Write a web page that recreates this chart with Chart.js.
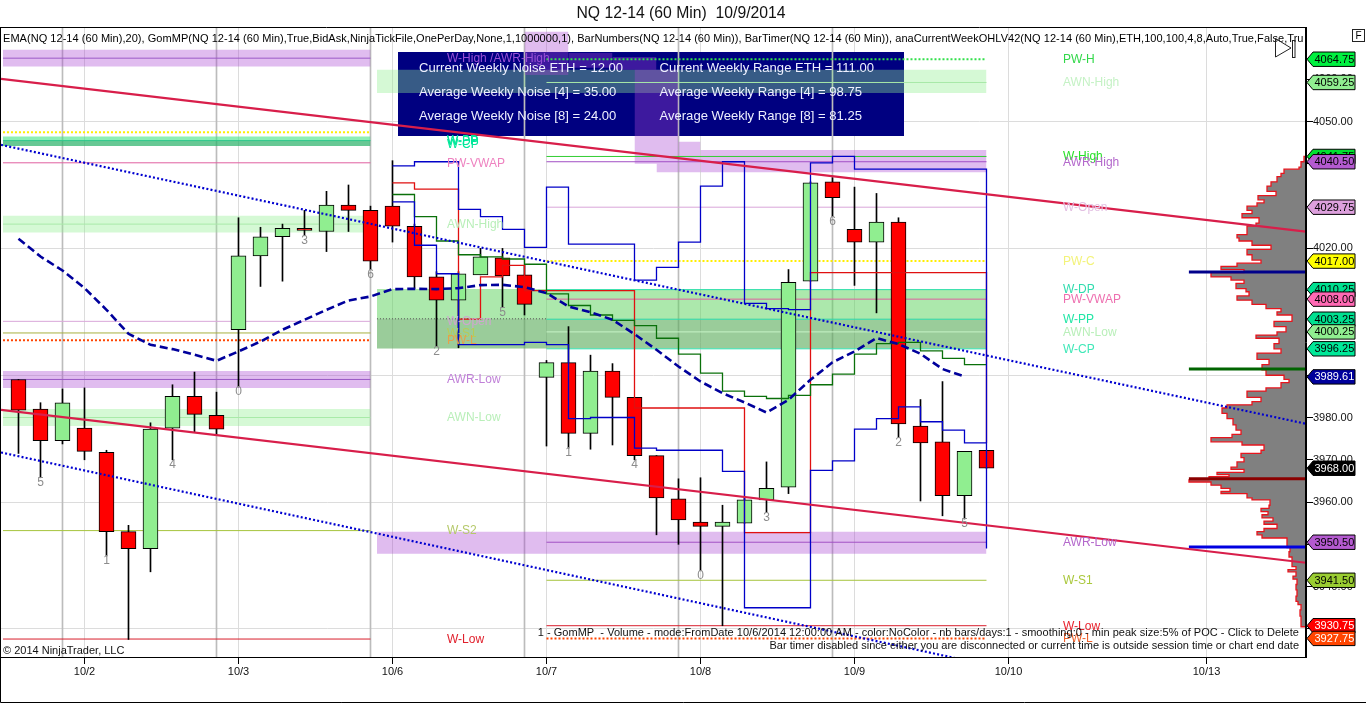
<!DOCTYPE html>
<html><head><meta charset="utf-8">
<style>html,body{margin:0;padding:0;background:#fff;overflow:hidden}canvas{display:block}</style>
<script src="https://cdn.jsdelivr.net/npm/chart.js@4"></script>
</head><body><canvas id="c" width="1366" height="703" style="width:1366px;height:703px"></canvas>
<script>
const chartTitle='NQ 12-14 (60 Min)  10/9/2014';
const xTicks=[3,10,17,24,31,38,45,54];
const xTickLabels=['10/2','10/3','10/6','10/7','10/8','10/9','10/10','10/13'];
const yTicks=[3930,3940,3950,3960,3970,3980,3990,4000,4010,4020,4030,4040,4050,4060];
const sessionBreaks=[2,9,16,23,30,37];
const opens=[3989,3982,3974.5,3977.5,3971.75,3953,3949,3977.5,3985,3980.5,4000.75,4018.25,4022.75,4024.75,4024,4030.25,4029,4030,4025.25,4013.25,4007.75,4013.75,4017.75,4013.75,3989.5,3993,3976.25,3991,3984.75,3971,3960.75,3955.25,3954.25,3955,3960.5,3963.5,4012.25,4035.75,4024.5,4021.5,4026.25,3978,3974.25,3961.5,3972.25];
const closes=[3981.75,3974.5,3983.5,3972,3953,3949,3977.25,3985,3980.75,3977.25,4018.25,4022.75,4024.75,4024.25,4030.25,4029,4017,4025.25,4013.25,4007.75,4014,4018,4013.5,4006.75,3993,3976.25,3991,3984.75,3971,3961,3955.75,3954.25,3955.25,3960.5,3963.25,4012,4035.5,4032,4021.5,4026.25,3978.5,3974,3961.5,3972,3968];
const highs=[3989,3983.5,3986.75,3987,3972.25,3954.5,3978.75,3987.75,3990.75,3986,4027.25,4025,4025.75,4029,4033.5,4035,4030,4040.75,4025.75,4014.5,4014.5,4020,4020,4016,3993.5,4001.5,3994.75,3992.75,3984.75,3971,3965.5,3965.75,3959.25,3961,3969.5,4015,4035.75,4036.75,4034.5,4033,4027.25,3984.25,3988.5,3972,3972.25];
const lows=[3971.5,3965.75,3973.75,3970,3947.25,3927.5,3943.5,3970,3976.5,3975.75,3987.25,4011,4012.25,4023,4019.25,4024,4015,4021.5,4010.5,3996.75,3996.5,4013.75,4006,4004.25,3973.25,3972.75,3972.5,3973.5,3970,3952.25,3950,3943.75,3930.75,3955,3957.5,3962,4012.25,4027.5,4011.25,4004.75,3975.25,3960.25,3956.75,3956,3968];
const barNumberIndex=[1,4,7,10,13,16,19,22,25,28,31,34,37,40,43];
const barNumbers=['5','1','4','0','3','6','2','5','1','4','0','3','6','2','5'];
const ema20=[4022.27,4018.08,4014.77,4010.61,4005.48,3999.8,3997.2,3996.18,3994.84,3993.42,3995.62,3997.98,4000.75,4003.11,4005.48,4007.68,4008.62,4010.37,4010.44,4010.37,4010.61,4011.32,4011.39,4010.84,4009.43,4006.26,4004.93,4003.11,3999.73,3996.02,3992.07,3988.52,3985.78,3983.56,3981.19,3984.2,3988.93,3993.06,3995.62,3998.79,3997.37,3995.07,3991.46,3989.71];
const gomStartIndex=17;
const gomHigh=[4039.5,4040.5,4040.5,4029.25,4027.5,4024.5,4020.25,4034.5,4021,4021,4021,4012.5,4015.5,4021.5,4034.75,4040.5,4007,4005.75,4005.5,4040.25,4041.75,4038.75,4038.75,4038.75,4038.75,4038.75,4038.75,3949];
const gomLow=[4031,4020.75,4014,3997.25,3997.25,3997.25,3997.75,3997.25,3979.75,3980,3980,3972.75,3972.25,3972.25,3972.25,3967.25,3935,3935,3935,3967.5,3969.75,3977.25,3979.75,3982.5,3979,3977,3974,3974];
const gomPoc=[4035.5,4034,4034,4003.25,4013.25,4016,4010,4010,4010,4010,4010,3982.25,3982.25,3982.25,3982.25,3982.25,3952.75,3952.75,3952.75,4014.25,4014.25,4014.25,4014.25,4014.25,4014.25,4014.25,4014.25,3974];
const gomVwap=[4032.75,4027.5,4021.75,4018.5,4018,4017.5,4016.25,4009.25,4006.5,4004.25,4003,4001.75,3998.75,3995,3990.5,3986.25,3985,3984.5,3985.25,3987.75,3990.25,3995,3997.5,3997.75,3995.75,3994,3992.5,3992.5];
const trendX=[-0.795,58.52];
const trendRedUpper=[4060.1,4023.99];
const trendRedLower=[3981.83,3945.65];
const trendBlueUpper=[4044.49,3978.52];
const trendBlueLower=[3971.73,3905.22];
const profilePrices=[3930.5,3931.5,3933,3934.5,3935.75,3936.5,3937.75,3939.25,3940.5,3941.75,3942.5,3943.5,3944,3944.75,3945.75,3947,3948.25,3949.25,3950.75,3951.5,3952.25,3953,3953.75,3954.75,3955.5,3956.25,3957,3957.75,3958.5,3959.25,3960.5,3961,3962,3962.5,3963.25,3964,3964.75,3965.25,3966,3966.5,3967,3967.75,3968.25,3969.5,3970.5,3971.5,3972.25,3973.5,3974.25,3975.25,3976,3977,3978.25,3979.75,3981,3982.25,3983,3983.75,3984.75,3986.25,3987,3988.25,3989,3990,3991.25,3992.5,3993.75,3995.25,3996.25,3997.5,3998.75,3999.5,4000.25,4001.5,4002.75,4004.25,4005,4005.75,4006.75,4007.75,4008.75,4009.75,4010.5,4011.75,4012.5,4013.25,4014.25,4015,4015.75,4016.5,4017.25,4018.5,4019.75,4020.75,4021.75,4022.5,4023.25,4024.25,4025.25,4026,4027.25,4028.25,4029,4030,4030.75,4031.5,4032.5,4033.5,4034.75,4035.75,4037,4037.75,4038.75,4039.25,4040.5,4041.75,4042.5];
const profileVolume=[0,5,5,6,5,8,10,9,10,9,13,10,18,10,14,14,17,16,19,19,44,49,42,29,42,33,44,38,45,37,36,54,59,85,76,85,95,117,97,77,89,62,75,69,62,65,45,42,64,95,74,65,70,73,79,84,79,54,45,59,40,25,17,22,40,44,37,49,25,32,27,50,29,20,32,14,29,25,40,54,69,57,60,70,62,75,95,62,85,69,45,54,59,35,54,67,69,59,59,50,47,64,54,59,49,42,48,30,39,35,29,25,22,7,5,2,0];
const pocPrices=[4014.4,3991.46,3965.5,3949.37];
const pocStart=53.2;
const zonesPurple=[[-0.705,16,4067,4063],[-0.705,16,3991,3987],[16.295,44,3953,3947.75],[23,25,4071.25,4061],[25,27,4066.25,4062.75],[27,29,4065.25,4062.25],[28,30,4062.25,4040],[29,30,4040,4038],[30,31,4045.25,4038],[31,44,4043.25,4038]];
const zonesPaleGreen=[[-0.705,16,4027.75,4023.75],[-0.705,16,3982,3978],[16.295,44,4062.25,4056.75]];
const zonesPivotGreen=[[-0.705,16,4046.5,4044.25]];
const zonesPivotDark=[[-0.705,16,4045.5,4044.25]];
const zonesNoiseGreen=[[16.295,44,4010.37,3996.33]];
const zonesNoiseDark=[[16.295,44,4003.35,3996.33]];
const prevStart=-0.705, prevEnd=16, curStart=24, curEnd=44;
const prevAwr=[4065,3989], prevAwn=[4025.75,3980], prevPwc=4047.5, prevPivot=4045.5, prevVwap=4040.25, prevOpen=4002.75, prevS=[4000,3953.25], prevPwl=3998.25, prevLow=3927.6;
const curAwr=[4040.5,3950.5], curAwn=[4059.25,4000.25], curPwh=4064.75, curHigh=4041.75, curOpen=4029.75, curPwc=4017, curPivots=[4010.25,4003.25,3996.25], curVwap=4008, curS1=3941.5, curLow=3930.75, curPwl=3927.75, curDotted=4003.35;
const leftLabels=['W-High /AWR-High','W-PP','W-DP','W-CP','PW-VWAP','AWN-High','W-Open','W-S1','PW-L','AWR-Low','AWN-Low','W-S2','W-Low'];
const leftLabelPrices=[4065,4045.5,4045.25,4044.75,4040.25,4025.75,4002.75,4000,3998.25,3989,3980,3953.25,3927.6];
const rightLabels=['PW-H','AWN-High','W-High','AWR-High','W-Open','PW-C','W-DP','PW-VWAP','W-PP','AWN-Low','W-CP','AWR-Low','W-S1','W-Low','PW-L'];
const rightLabelPrices=[4064.75,4059.25,4041.75,4040.5,4029.75,4017,4010.25,4008,4003.25,4000.25,3996.25,3950.5,3941.5,3930.75,3927.75];
const flagValues=[4064.75,4059.25,4041.75,4040.5,4029.75,4017,4010.25,4008,4003.25,4000.25,3996.25,3989.61,3968,3950.5,3941.5,3930.75,3927.75];
const noiseTexts=['Current Weekly Noise ETH = 12.00','Average Weekly Noise [4] = 35.00','Average Weekly Noise [8] = 24.00'];
const rangeTexts=['Current Weekly Range ETH = 111.00','Average Weekly Range [4] = 98.75','Average Weekly Range [8] = 81.25'];
const indicatorText='EMA(NQ 12-14 (60 Min),20), GomMP(NQ 12-14 (60 Min),True,BidAsk,NinjaTickFile,OnePerDay,None,1,1000000,1), BarNumbers(NQ 12-14 (60 Min)), BarTimer(NQ 12-14 (60 Min)), anaCurrentWeekOHLV42(NQ 12-14 (60 Min),ETH,100,100,4,8,Auto,True,False,Tru';
const gomText='1 - GomMP  - Volume - mode:FromDate 10/6/2014 12:00:00 AM - color:NoColor - nb bars/days:1 - smoothing:0 - min peak size:5% of POC - Click to Delete';
const timerText='Bar timer disabled since either you are disconnected or current time is outside session time or chart end date';
const copyrightText='© 2014 NinjaTrader, LLC';

const Y_MIN=3923.35,Y_MAX=4072.16,X_MIN=-0.795,X_MAX=58.523;
const FONT='"Liberation Sans", Arial, sans-serif';
const leftLabelColors=['#9a4fd6','#00e89a','#00e89a','#00e89a','#ee82c0','#b9efb9','#cfa6cf','#b7cc5a','#e8a04a','#c080d8','#b9efb9','#b5c96a','#e0202c'];
const rightLabelColors=['#32d84a','#c5f2c5','#28e028','#b468cc','#e2bfe2','#f3f37a','#30dcae','#ee70b0','#22e6a6','#b9efb9','#40e8b8','#b468cc','#aac83c','#e8202c','#f0602a'];
const flagFill=['#00f040','#90ee90','#00e030','#b45ad0','#dda0dd','#ffff00','#00e090','#ff69b4','#00e090','#90ee90','#00e898','#00009c','#000000','#b45ad0','#9acd32','#ff0000','#ff4500'];
const flagText=['#000','#000','#000','#000','#000','#000','#000','#000','#000','#000','#000','#fff','#fff','#000','#000','#fff','#fff'];

function zoneSet(zones,color,order){
  return zones.map(z=>({type:'line',data:[{x:z[0],y:z[2]},{x:z[1],y:z[2]}],borderWidth:0,pointRadius:0,
    backgroundColor:color,fill:{target:{value:z[3]}},order}));
}
function hline(x0,x1,y,color,width,dash,order){
  return {type:'line',data:[{x:x0,y},{x:x1,y}],borderColor:color,borderWidth:width||1,borderDash:dash||[],pointRadius:0,fill:false,order:order||80};
}
function stepLine(values,color,order){
  return {type:'line',data:values.map((v,i)=>({x:gomStartIndex+i,y:v})),borderColor:color,borderWidth:1.3,pointRadius:0,stepped:true,fill:false,order};
}
function trend(values,color,width,dash,order){
  return {type:'line',data:values.map((v,i)=>({x:trendX[i],y:v})),borderColor:color,borderWidth:width,borderDash:dash||[],pointRadius:0,fill:false,order};
}
const idx=opens.map((_,i)=>i);
const datasets=[
  {type:'bar',data:sessionBreaks.map(k=>({x:k,y:[Y_MIN,Y_MAX]})),backgroundColor:'#bcbcbc',barThickness:1,grouped:false,order:100},
  ...zoneSet(zonesPaleGreen,'rgba(144,238,144,0.38)',95),
  ...zoneSet(zonesPivotGreen,'rgba(60,225,130,0.58)',94),
  ...zoneSet(zonesPivotDark,'rgba(0,100,60,0.27)',93),
  ...zoneSet(zonesNoiseGreen,'rgba(90,210,90,0.5)',92),
  ...zoneSet(zonesNoiseDark,'rgba(80,80,80,0.18)',91),
  ...zoneSet(zonesPurple,'rgba(168,70,210,0.36)',90),
  hline(prevStart,prevEnd,prevAwr[0],'#9b59c6'),hline(prevStart,prevEnd,prevAwr[1],'#9b59c6'),
  hline(prevStart,prevEnd,prevAwn[0],'#a8eaa8'),hline(prevStart,prevEnd,prevAwn[1],'#a8eaa8'),
  hline(prevStart,prevEnd,prevPwc,'#ffee00',2,[2,2]),
  hline(prevStart,prevEnd,prevPivot,'#2fc88c'),
  hline(prevStart,prevEnd,prevVwap,'#e060a0'),
  hline(prevStart,prevEnd,prevOpen,'#d9a6d9'),
  hline(prevStart,prevEnd,prevS[0],'#a8b040'),hline(prevStart,prevEnd,prevS[1],'#a6c43c'),
  hline(prevStart,prevEnd,prevPwl,'#ff4500',2,[2,2]),
  hline(prevStart,prevEnd,prevLow,'#d81e2c'),
  hline(curStart,curEnd,curPwh,'#32e04a',2,[2,2]),
  hline(curStart,curEnd,curAwn[0],'#a8eaa8'),hline(curStart,curEnd,curAwn[1],'#c8f4c8'),
  hline(curStart,curEnd,curHigh,'#32cd32'),
  hline(curStart,curEnd,curAwr[0],'#a14fc4'),hline(curStart,curEnd,curAwr[1],'#a14fc4'),
  hline(curStart,curEnd,curOpen,'#d9a6d9'),
  hline(curStart,curEnd,curPwc,'#ffee00',2,[2,2]),
  hline(curStart,curEnd,curPivots[0],'#30e0b0'),hline(curStart,curEnd,curPivots[1],'#30e0b0'),hline(curStart,curEnd,curPivots[2],'#30e0b0'),
  hline(curStart,curEnd,curVwap,'#e060a0'),
  hline(curStart,curEnd,curS1,'#a6c43c'),
  hline(curStart,curEnd,curLow,'#d81e2c'),
  hline(curStart,curEnd,curPwl,'#ff4500',2,[2,2]),
  hline(16.295,curStart,curDotted,'#555',1,[1,2]),
  {type:'bar',data:idx.map(i=>({x:i,y:[lows[i],highs[i]]})),backgroundColor:'#000',barThickness:1,grouped:false,order:70},
  {type:'bar',data:idx.map(i=>({x:i,y:[opens[i],closes[i]]})),
    backgroundColor:idx.map(i=>closes[i]>=opens[i]?'#90ee90':'#ff0000'),borderColor:'#000',borderWidth:1,borderSkipped:false,barThickness:15,grouped:false,order:60},
  stepLine(gomHigh,'#0000c8',50),stepLine(gomLow,'#0000c8',50),stepLine(gomPoc,'#e01010',52),stepLine(gomVwap,'#0a700a',51),
  {type:'line',indexAxis:'y',xAxisID:'xp',data:profilePrices.map((p,i)=>({x:profileVolume[i],y:p})),borderColor:'#e8141c',borderWidth:1.3,
    backgroundColor:'#808080',fill:'shape',stepped:true,pointRadius:0,order:30},
  ...pocPrices.map((p,i)=>hline(pocStart,X_MAX,p,['#00008b','#006400','#8b0000','#0000e0'][i],3,[],28)),
  {type:'line',data:ema20.map((v,i)=>({x:i,y:v})),borderColor:'#00009c',borderWidth:2.6,borderDash:[8,4],pointRadius:0,fill:false,order:26},
  trend(trendBlueUpper,'#0000d0',2.2,[2,2.2],24),trend(trendBlueLower,'#0000d0',2.2,[2,2.2],24),
  trend(trendRedUpper,'#d81e4a',2.2,[],22),trend(trendRedLower,'#d81e4a',2.2,[],22)
];

function textAt(ctx,t,x,y,font,color,align,spacing){
  ctx.font=font;ctx.fillStyle=color;ctx.textAlign=align||'left';ctx.textBaseline='middle';
  ctx.letterSpacing=(spacing||0)+'px';ctx.fillText(t,x,y);ctx.letterSpacing='0px';
}
const overlays={
  id:'overlays',
  beforeDatasetsDraw(c){
    const g=c.ctx;g.save();g.fillStyle='#000080';g.fillRect(398,52,506,84);g.restore();
  },
  afterDatasetsDraw(c){
    const g=c.ctx,X=c.scales.x,Y=c.scales.y;
    g.save();
    barNumberIndex.forEach((k,i)=>textAt(g,barNumbers[i],X.getPixelForValue(k),Y.getPixelForValue(lows[k])+5,'12px '+FONT,'#8c8c8c','center'));
    leftLabels.forEach((t,i)=>textAt(g,t,447,Y.getPixelForValue(leftLabelPrices[i])+0.5,'12px '+FONT,leftLabelColors[i]));
    rightLabels.forEach((t,i)=>textAt(g,t,1063,Y.getPixelForValue(rightLabelPrices[i])+0.5,'12px '+FONT,rightLabelColors[i]));
    noiseTexts.forEach((t,i)=>textAt(g,t,419,68.5+24*i,'13.07px '+FONT,'#eef0ff'));
    rangeTexts.forEach((t,i)=>textAt(g,t,659.5,68.5+24*i,'13.07px '+FONT,'#eef0ff'));
    textAt(g,indicatorText,3,39,'11px '+FONT,'#000','left',0.04);
    textAt(g,gomText,1299,633.3,'11px '+FONT,'#111','right',0.03);
    textAt(g,timerText,1299,646.3,'11px '+FONT,'#111','right',0);
    textAt(g,copyrightText,3,651,'11px '+FONT,'#111','left',0);
    g.restore();
  },
  afterDraw(c){
    const g=c.ctx,Y=c.scales.y;
    g.save();
    g.strokeStyle='#000';g.lineWidth=1;
    g.beginPath();g.moveTo(0.5,27.5);g.lineTo(0.5,702.5);g.lineTo(1366,702.5);
    g.moveTo(0,27.5);g.lineTo(1306,27.5);g.moveTo(1305.5,27.5);g.lineTo(1305.5,657.5);g.moveTo(0,657.5);g.lineTo(1306,657.5);g.stroke();
    g.beginPath();g.moveTo(1275.5,38.5);g.lineTo(1291,48);g.lineTo(1275.5,57);g.closePath();g.strokeStyle='#222';g.stroke();
    g.strokeRect(1292.5,40.5,2.5,17);
    g.strokeRect(1352.5,29.5,12,12);
    textAt(g,'F',1358.5,36,'10px '+FONT,'#000','center');
    flagValues.forEach((v,i)=>{
      const y=Y.getPixelForValue(v);
      g.beginPath();g.moveTo(1307,y);g.lineTo(1313,y-7.2);g.lineTo(1355,y-7.2);g.lineTo(1355,y+7.2);g.lineTo(1313,y+7.2);g.closePath();
      g.fillStyle=flagFill[i];g.fill();g.strokeStyle='#000';g.stroke();
      textAt(g,v.toFixed(2),1314.5,y+0.5,'11px '+FONT,flagText[i]);
    });
    g.restore();
  }
};
new Chart(document.getElementById('c'),{
  type:'line',
  data:{datasets},
  plugins:[overlays],
  options:{
    responsive:false,animation:false,devicePixelRatio:1,
    layout:{padding:{top:0,left:1,right:5,bottom:0}},
    plugins:{
      legend:{display:false},tooltip:{enabled:false},
      title:{display:true,text:chartTitle,color:'#111',font:{family:FONT,size:15.75,weight:'normal',lineHeight:1.2},padding:{top:4,bottom:5}},
      filler:{propagate:false}
    },
    scales:{
      x:{type:'linear',min:X_MIN,max:X_MAX,offset:false,
        afterBuildTicks:s=>{s.ticks=xTicks.map(v=>({value:v}));},
        afterFit:s=>{s.height=46;},
        ticks:{autoSkip:false,maxRotation:0,padding:1,color:'#111',font:{family:FONT,size:11},callback:v=>xTickLabels[xTicks.indexOf(v)]},
        grid:{offset:false,color:'#dcdcdc',tickColor:'#000',tickLength:7,lineWidth:1},border:{color:'#000'}},
      xp:{type:'linear',display:false,reverse:true,min:0,max:1305,offset:false},
      y:{type:'linear',position:'right',min:Y_MIN,max:Y_MAX,offset:false,
        afterBuildTicks:s=>{s.ticks=yTicks.map(v=>({value:v}));},
        afterFit:s=>{s.width=55;},
        ticks:{autoSkip:false,padding:0,color:'#111',font:{family:FONT,size:11},callback:v=>Number(v).toFixed(2)},
        grid:{color:c=>(c.tick&&c.tick.value%30===0)?'#dcdcdc':'rgba(0,0,0,0)',tickColor:'#000',tickLength:7},border:{color:'#000'}}
    }
  }
});
</script>
</body></html>
